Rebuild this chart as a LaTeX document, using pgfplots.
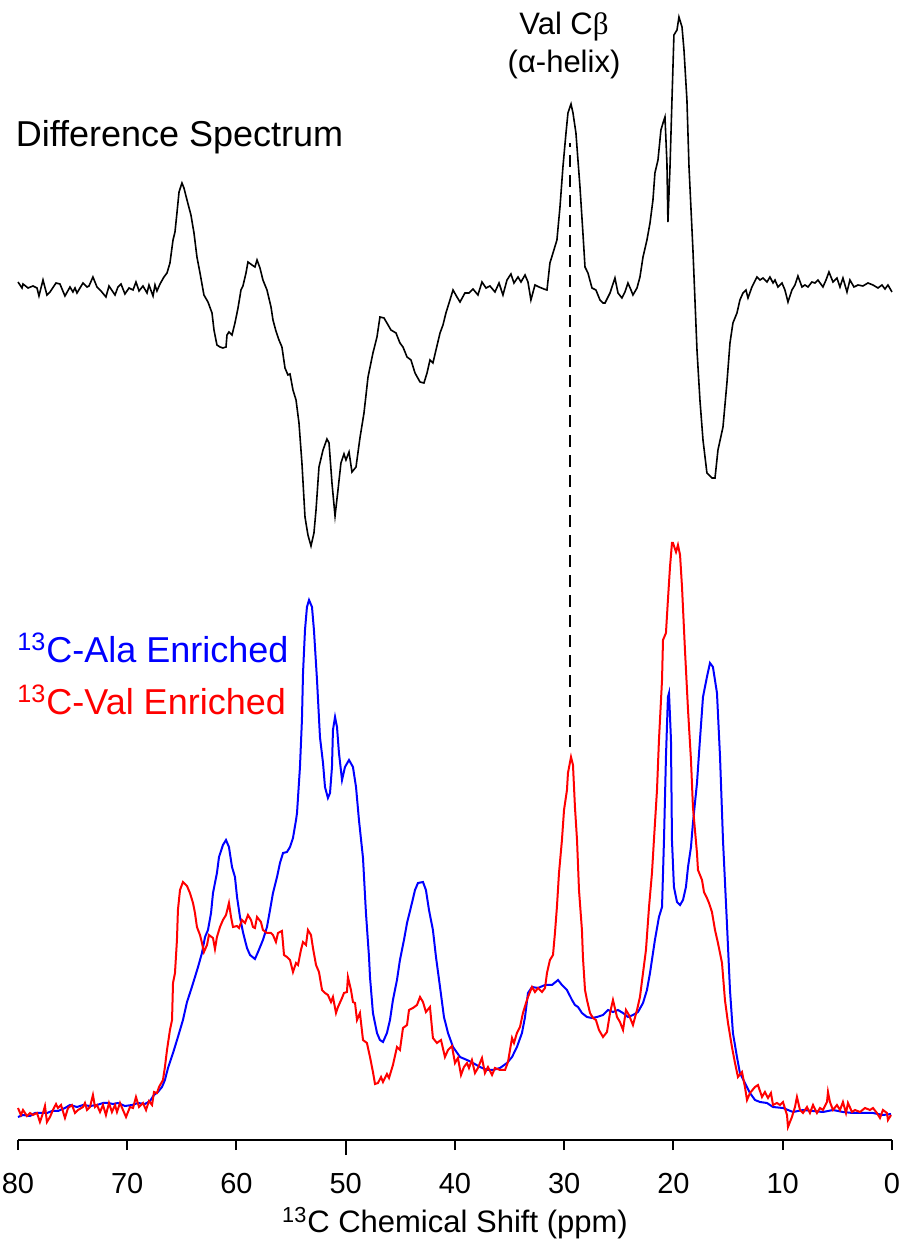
\documentclass[border=0pt]{standalone}
\usepackage{fontspec}
\setmainfont{Liberation Sans}
\newfontfamily\seriffont{Liberation Serif}
\usepackage{pgfplots}
\pgfplotsset{compat=1.18}
\begin{document}
\begin{tikzpicture}
\begin{axis}[
  scale only axis, width=437pt, height=570pt,
  xmin=0, xmax=80, x dir=reverse, ymin=0, ymax=1140,
  axis x line*=bottom, axis y line=none,
  clip=false,
  xtick={0,10,...,80},
  tick align=outside, major tick length=5pt,
  x axis line style={line width=1pt},
  xtick style={line width=1pt, black},
  extra x ticks={50}, extra x tick labels={},
  extra x tick style={major tick length=7.5pt},
  /pgf/number format/assume math mode=true,
  xticklabel style={font=\fontsize{14.5pt}{17pt}\selectfont, yshift=-8pt},
  xlabel={\textsuperscript{13}C Chemical Shift (ppm)},
  xlabel style={font=\fontsize{15.5pt}{18pt}\selectfont, yshift=12.5pt},
]
\coordinate (bl) at (axis cs:80,0);
\coordinate (tr) at (axis cs:0,1140);
% Difference spectrum
\addplot[black, line width=0.8pt, mark=none] table {
80.00 858
79.63 852
79.54 856
79.08 852
78.63 854
78.26 852
78.08 844
77.71 860
77.35 845
77.07 848
76.52 857
76.16 856
75.70 844
75.24 853
74.97 848
74.78 852
74.60 847
74.05 857
73.68 853
73.50 854
73.14 863
72.77 853
72.40 849
71.95 843
71.67 854
71.12 845
70.85 853
70.57 856
70.21 846
69.84 852
69.47 850
69.20 858
68.92 849
68.56 854
68.19 847
68.01 855
67.64 844
67.46 855
67.28 849
67.00 856
66.64 863
66.36 867
66.09 877
65.81 900
65.63 908
65.45 927
65.26 948
64.99 957
64.81 952
64.53 940
64.17 925
63.89 907
63.62 883
63.34 867
62.98 845
62.61 838
62.24 827
62.06 810
61.79 795
61.51 793
61.24 792
60.96 793
60.87 805
60.69 808
60.41 805
60.14 817
59.86 832
59.59 850
59.41 854
59.13 867
58.95 878
58.58 875
58.31 873
58.12 880
57.85 872
57.58 860
57.21 850
56.84 833
56.66 820
56.39 809
56.11 800
55.84 793
55.56 772
55.29 765
55.10 766
54.83 750
54.55 740
54.28 717
54.01 677
53.73 623
53.46 605
53.18 594
52.91 607
52.72 630
52.45 673
52.08 690
51.72 701
51.53 697
51.26 657
50.98 624
50.71 650
50.44 677
50.16 686
49.98 680
49.70 688
49.43 668
49.06 673
48.70 702
48.33 727
47.96 763
47.51 787
47.14 803
46.87 823
46.50 822
46.23 817
45.86 810
45.40 807
45.04 797
44.76 793
44.39 783
44.03 780
43.66 767
43.20 758
42.84 757
42.56 767
42.29 780
42.02 777
41.74 790
41.37 807
41.10 815
40.83 827
40.46 840
40.18 850
39.82 843
39.54 838
39.09 847
38.72 847
38.35 851
37.90 845
37.53 858
37.16 852
36.80 854
36.34 848
35.97 857
35.61 845
35.24 860
34.88 866
34.60 857
34.23 863
33.96 858
33.59 865
33.32 858
33.05 840
32.68 855
32.31 853
31.86 851
31.58 850
31.31 877
31.03 887
30.67 900
30.39 933
30.12 973
29.84 1007
29.66 1027
29.38 1036
29.20 1027
28.93 1007
28.56 953
28.29 907
28.10 873
27.83 867
27.46 852
27.10 850
26.73 840
26.45 837
26.27 837
25.81 847
25.36 862
25.08 847
24.72 842
24.44 848
24.17 857
23.89 850
23.71 845
23.34 852
23.07 863
22.79 883
22.43 900
22.15 917
21.88 940
21.70 967
21.42 980
21.15 1010
20.96 1017
20.78 1023
20.60 977
20.51 918
20.32 973
20.14 1040
19.96 1105
19.68 1110
19.50 1123
19.22 1113
19.04 1090
18.77 1040
18.58 973
18.22 890
17.85 790
17.58 740
17.30 700
16.94 667
16.48 662
16.20 662
15.93 690
15.47 713
15.11 757
14.83 797
14.56 817
14.19 827
13.92 840
13.64 847
13.37 850
13.18 842
12.82 853
12.36 863
12.08 860
11.81 862
11.44 858
11.17 863
10.89 857
10.71 860
10.44 853
10.07 857
9.80 850
9.52 838
9.16 850
8.88 855
8.61 864
8.24 853
7.97 855
7.69 853
7.33 858
7.05 857
6.78 860
6.32 853
6.04 860
5.77 868
5.40 858
5.04 862
4.76 853
4.49 862
4.12 848
3.85 860
3.48 853
3.11 855
2.66 854
2.20 857
1.74 855
1.28 852
0.92 855
0.64 851
0.37 855
0.00 848
};
% 13C-Ala enriched (blue)
\addplot[blue, line width=1pt, mark=none] table {
80.00 23
79.54 25
78.90 24
78.44 27
77.80 27
77.35 27
76.89 29
76.34 29
75.70 32
75.24 35
74.60 33
74.05 35
73.41 34
72.77 35
72.22 37
71.76 37
71.30 36
70.85 37
70.21 34
69.57 35
69.02 37
68.38 36
67.92 39
67.55 45
67.19 48
66.82 53
66.55 60
66.27 72
65.81 87
65.36 103
64.90 120
64.53 138
64.17 150
63.80 163
63.52 173
63.16 187
62.88 203
62.61 210
62.33 227
62.15 247
61.79 267
61.60 283
61.24 295
60.96 300
60.69 293
60.41 273
60.14 263
59.95 243
59.68 223
59.41 208
59.04 192
58.76 185
58.31 181
58.03 188
57.58 200
57.21 213
56.93 230
56.66 247
56.29 263
56.02 277
55.74 287
55.38 288
55.10 293
54.83 302
54.55 320
54.46 327
54.19 373
54.01 420
53.91 467
53.73 510
53.55 533
53.36 540
53.09 533
52.91 510
52.63 460
52.36 403
52.08 377
51.90 353
51.63 342
51.44 347
51.26 373
51.17 410
50.98 423
50.80 413
50.62 387
50.34 360
50.07 373
49.70 380
49.34 373
49.06 353
48.79 320
48.42 282
48.15 227
47.87 183
47.78 163
47.51 127
47.14 107
46.87 100
46.59 98
46.23 107
45.95 120
45.68 140
45.31 160
45.04 180
44.67 200
44.39 217
43.94 237
43.66 250
43.39 257
42.93 258
42.66 250
42.38 230
42.02 210
41.74 183
41.37 153
41.01 123
40.64 107
40.18 93
39.54 83
38.90 80
38.35 77
37.71 73
37.07 70
36.52 70
35.88 72
35.24 77
34.78 83
34.33 93
33.87 107
33.59 123
33.32 147
32.95 153
32.40 152
31.76 155
31.12 155
30.57 160
30.21 155
29.75 150
29.29 140
29.02 135
28.74 133
28.38 127
27.92 123
27.46 122
27.00 123
26.45 125
26.00 130
25.54 128
25.08 130
24.62 127
24.17 123
23.71 125
23.25 128
22.79 137
22.43 150
22.15 167
21.70 200
21.33 223
21.05 233
20.87 300
20.69 383
20.51 443
20.41 447
20.23 400
20.14 300
19.96 253
19.68 238
19.40 235
19.13 240
18.86 253
18.67 273
18.40 293
18.22 317
17.85 357
17.58 400
17.30 443
16.94 463
16.66 477
16.39 473
16.02 447
15.74 383
15.47 300
15.11 217
14.83 150
14.56 107
14.19 83
13.92 67
13.46 57
13.00 47
12.54 40
12.08 38
11.44 37
10.89 33
9.98 32
9.06 28
8.15 30
7.23 29
6.32 28
5.40 30
4.49 28
3.57 27
2.66 27
1.74 27
0.83 25
0.09 26
};
% 13C-Val enriched (red)
\addplot[red, line width=1pt, mark=none] table {
80.00 32
79.73 25
79.54 30
79.18 24
78.90 27
78.63 25
78.26 27
77.99 18
77.71 27
77.53 34
77.35 18
77.07 23
76.80 30
76.52 36
76.34 32
76.06 35
75.70 22
75.42 32
75.06 35
74.78 27
74.51 30
74.05 33
73.87 37
73.68 30
73.41 33
73.14 45
72.95 33
72.77 35
72.49 28
72.22 35
71.95 25
71.67 37
71.40 28
71.12 35
70.94 28
70.66 37
70.39 30
70.11 23
69.75 33
69.47 32
69.20 43
68.92 33
68.56 37
68.28 30
68.01 39
67.73 35
67.55 48
67.28 47
67.09 53
66.73 60
66.55 73
66.36 90
66.09 110
65.90 120
65.81 157
65.63 167
65.45 200
65.36 230
65.17 250
64.90 258
64.71 256
64.53 254
64.26 247
63.98 237
63.80 227
63.62 213
63.34 205
63.16 197
62.98 188
62.70 195
62.52 205
62.15 202
61.97 191
61.79 203
61.51 213
61.24 220
60.96 225
60.69 237
60.50 223
60.32 213
59.95 214
59.77 212
59.50 220
59.22 217
58.95 225
58.67 220
58.49 213
58.31 212
58.12 223
57.76 218
57.58 210
57.21 207
56.84 207
56.66 205
56.39 198
56.20 207
55.84 209
55.65 185
55.38 183
55.10 180
54.83 168
54.55 177
54.37 175
54.10 190
53.91 198
53.64 195
53.46 210
53.18 205
53.00 192
52.72 175
52.45 168
52.17 150
51.90 147
51.63 145
51.35 138
51.17 143
50.89 127
50.71 133
50.34 142
50.16 147
49.89 148
49.80 163
49.52 150
49.34 138
49.15 137
48.97 120
48.70 127
48.42 100
48.06 97
47.78 83
47.51 68
47.32 56
47.05 57
46.77 63
46.59 58
46.23 66
46.04 62
45.68 75
45.31 93
45.04 90
44.76 112
44.39 115
44.21 130
43.85 132
43.48 135
43.20 143
42.93 138
42.66 128
42.29 133
42.02 102
41.65 97
41.28 100
40.92 83
40.64 90
40.28 94
40.00 77
39.73 82
39.45 65
39.18 73
38.90 77
38.72 72
38.45 80
38.17 67
37.90 72
37.53 82
37.26 67
36.98 73
36.61 65
36.34 72
35.88 70
35.42 70
35.15 78
34.78 102
34.60 97
34.33 107
34.05 113
33.78 127
33.50 137
33.32 143
32.95 153
32.68 148
32.40 152
32.04 148
31.76 152
31.58 167
31.31 180
31.03 185
30.85 207
30.67 233
30.48 267
30.21 300
30.02 330
29.75 350
29.66 367
29.38 383
29.20 375
29.02 333
28.83 300
28.65 250
28.38 210
28.29 183
28.10 150
27.92 140
27.64 127
27.37 122
27.10 120
26.82 110
26.45 103
26.09 108
25.81 127
25.54 140
25.17 123
24.90 118
24.62 110
24.35 130
24.08 125
23.71 115
23.34 130
23.07 143
22.79 167
22.52 190
22.24 233
21.97 267
21.79 300
21.51 350
21.33 400
21.05 460
20.96 500
20.69 507
20.51 540
20.32 573
20.14 597
20.05 597
19.77 588
19.59 595
19.40 585
19.22 553
18.95 490
18.67 430
18.40 380
18.22 333
17.85 287
17.76 270
17.39 260
17.21 248
16.94 242
16.75 237
16.48 228
16.20 210
15.93 197
15.56 177
15.29 140
15.01 117
14.65 93
14.37 77
14.10 63
13.73 68
13.46 53
13.27 40
13.00 47
12.54 53
12.27 55
11.90 43
11.63 48
11.35 42
11.08 47
10.89 35
10.53 37
10.25 35
9.98 38
9.61 25
9.52 13
9.16 23
8.88 33
8.70 43
8.42 30
8.15 27
7.78 33
7.51 27
7.23 35
6.87 27
6.59 32
6.32 30
5.95 38
5.86 48
5.68 38
5.40 30
5.04 35
4.76 30
4.49 38
4.21 27
4.03 37
3.66 28
3.39 30
2.93 28
2.47 32
2.02 30
1.74 32
1.38 27
1.10 22
0.83 30
0.46 27
0.37 20
0.09 25
};
% dashed guide at Val Cbeta
\addplot[black, line width=0.75pt, dash pattern=on 6pt off 4pt, mark=none] coordinates {(29.47,393) (29.47,997)};
\node[anchor=base west, font=\fontsize{18pt}{21pt}\selectfont] at (axis cs:80.85,993) {Difference Spectrum};
\node[anchor=base west, font=\fontsize{18pt}{21pt}\selectfont, text=blue] at (axis cs:80.7,477) {\textsuperscript{13}C-Ala Enriched};
\node[anchor=base west, font=\fontsize{18pt}{21pt}\selectfont, text=red] at (axis cs:80.7,425) {\textsuperscript{13}C-Val Enriched};
\node[anchor=base, font=\fontsize{15.5pt}{18pt}\selectfont] at (axis cs:30.02,1105) {Val C{\seriffont β}};
\node[anchor=base, font=\fontsize{15.5pt}{18pt}\selectfont] at (axis cs:30.02,1067) {(α-helix)};
\end{axis}
\pgfresetboundingbox
\useasboundingbox ([shift={(-9pt,-53.5pt)}]bl) rectangle ([shift={(5pt,0pt)}]tr);
\end{tikzpicture}
\end{document}
